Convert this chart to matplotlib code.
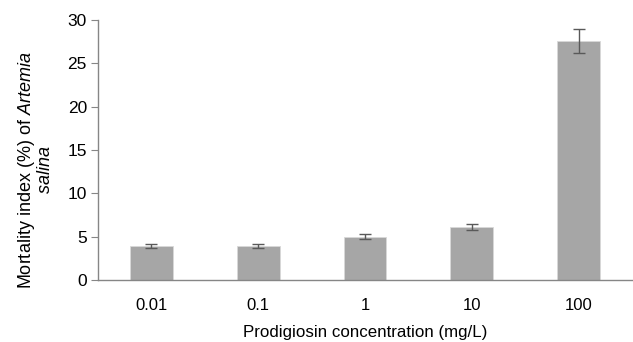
import matplotlib
matplotlib.use("Agg")
import matplotlib.pyplot as plt
import numpy as np

categories = ["0.01", "0.1", "1", "10", "100"]
values = [3.95, 3.95, 5.0, 6.15, 27.6]
errors = [0.23, 0.23, 0.27, 0.35, 1.4]
yticks = [0, 5, 10, 15, 20, 25, 30]

plt.rcParams['font.family'] = ['Liberation Sans', 'DejaVu Sans']
plt.rcParams['mathtext.fontset'] = 'custom'
plt.rcParams['mathtext.rm'] = 'Liberation Sans'
plt.rcParams['mathtext.it'] = 'Liberation Sans:italic'

W, H = 633, 342
fig = plt.figure(figsize=(W/100, H/100), dpi=100)
ax = fig.add_axes([98/W, 1-280/H, (632-98)/W, 260/H])

x = np.arange(len(categories))
ax.bar(x, values, width=0.4, color='#A6A6A6', edgecolor='#D9D9D9', linewidth=0.6, zorder=2)
ax.errorbar(x, values, yerr=errors, fmt='none', ecolor='#595959', elinewidth=1, capsize=4, capthick=1, zorder=3)

ax.set_xlim(-0.5, len(categories)-0.5)
ax.set_ylim(0, 30)
ax.set_yticks(yticks)
ax.set_xticks(x)
ax.set_xticklabels(categories)
for s in ['top', 'right']:
    ax.spines[s].set_visible(False)
for s in ['left', 'bottom']:
    ax.spines[s].set_color('#868686')
    ax.spines[s].set_linewidth(1)
ax.tick_params(axis='y', direction='out', length=5, color='#868686', labelsize=12.5, pad=3, labelcolor='#000000')
ax.tick_params(axis='x', length=0, labelsize=12, pad=13)

fig.text((98+632)/2/W, 1-337/H, "Prodigiosin concentration (mg/L)", fontsize=12.2,
         ha='center', va='baseline')

fig.text(35/W, 1-170/H, "Mortality index (%) of $Artemia$\n$salina$", rotation=90,
         ha='center', va='center', multialignment='center', fontsize=13, linespacing=1.05)

fig.savefig("out.png", dpi=100)
